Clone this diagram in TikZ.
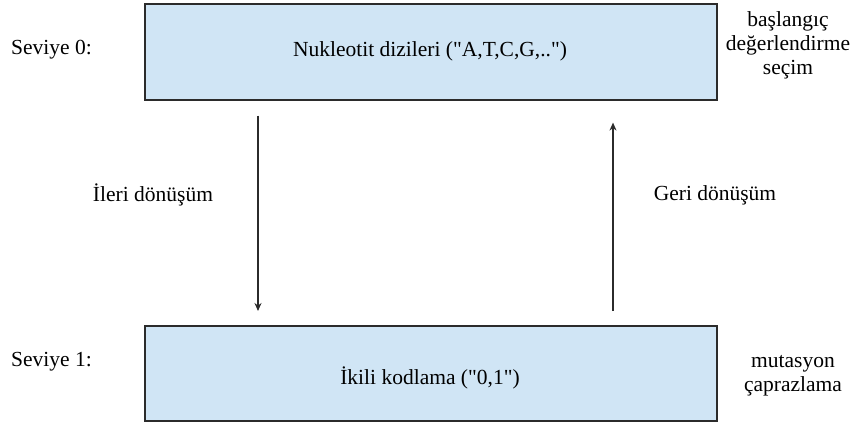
\documentclass[tikz,border=0pt]{standalone}
\usepackage{fontspec}
\setmainfont{Liberation Serif}
\usetikzlibrary{arrows.meta}
\definecolor{boxfill}{HTML}{D0E5F5}
\definecolor{boxline}{HTML}{2B2B2B}
\newcommand{\dq}{\textquotedbl}
\begin{document}
\begin{tikzpicture}[x=1pt,y=-1pt,
  levelbox/.style={draw=boxline, line width=1.6pt, fill=boxfill, minimum width=572pt, anchor=north west, inner sep=0pt},
  txt/.style={font=\fontsize{21.5}{24}\selectfont, text=black, inner sep=0pt},
  side/.style={txt, align=center},
  arr/.style={draw=boxline, line width=1.4pt, -{Stealth[length=8pt,width=7pt]}}]
  \useasboundingbox (0,0) rectangle (857,424);
  % the two levels
  \node[levelbox, minimum height=96pt] (lvl0) at (144,3) {};
  \node[levelbox, minimum height=95pt] (lvl1) at (144,325) {};
  \node[txt] (t0) at (430,51) {Nukleotit dizileri (\dq A,T,C,G,..\dq)};
  \node[txt] (t1) at (430,378) {İkili kodlama (\dq 0,1\dq)};
  % level names on the left
  \node[txt, anchor=west] (s0) at (11,50) {Seviye 0:};
  \node[txt, anchor=west] (s1) at (11,362) {Seviye 1:};
  % operations on the right
  \node[side] (ops0) at (788,45) {başlangıç\\değerlendirme\\seçim};
  \node[side] (ops1) at (793,376) {mutasyon\\çaprazlama};
  % transformations between the levels
  \coordinate (dnx) at (258,0);
  \coordinate (upx) at (613,0);
  \draw[arr, shorten <=15pt, shorten >=14pt] (lvl0.south -| dnx) -- (lvl1.north -| dnx);
  \draw[arr, shorten <=14pt, shorten >=22pt] (lvl1.north -| upx) -- (lvl0.south -| upx);
  \node[txt] (fwd) at (153,195) {İleri dönüşüm};
  \node[txt] (bwd) at (715,195) {Geri dönüşüm};
\end{tikzpicture}
\end{document}
